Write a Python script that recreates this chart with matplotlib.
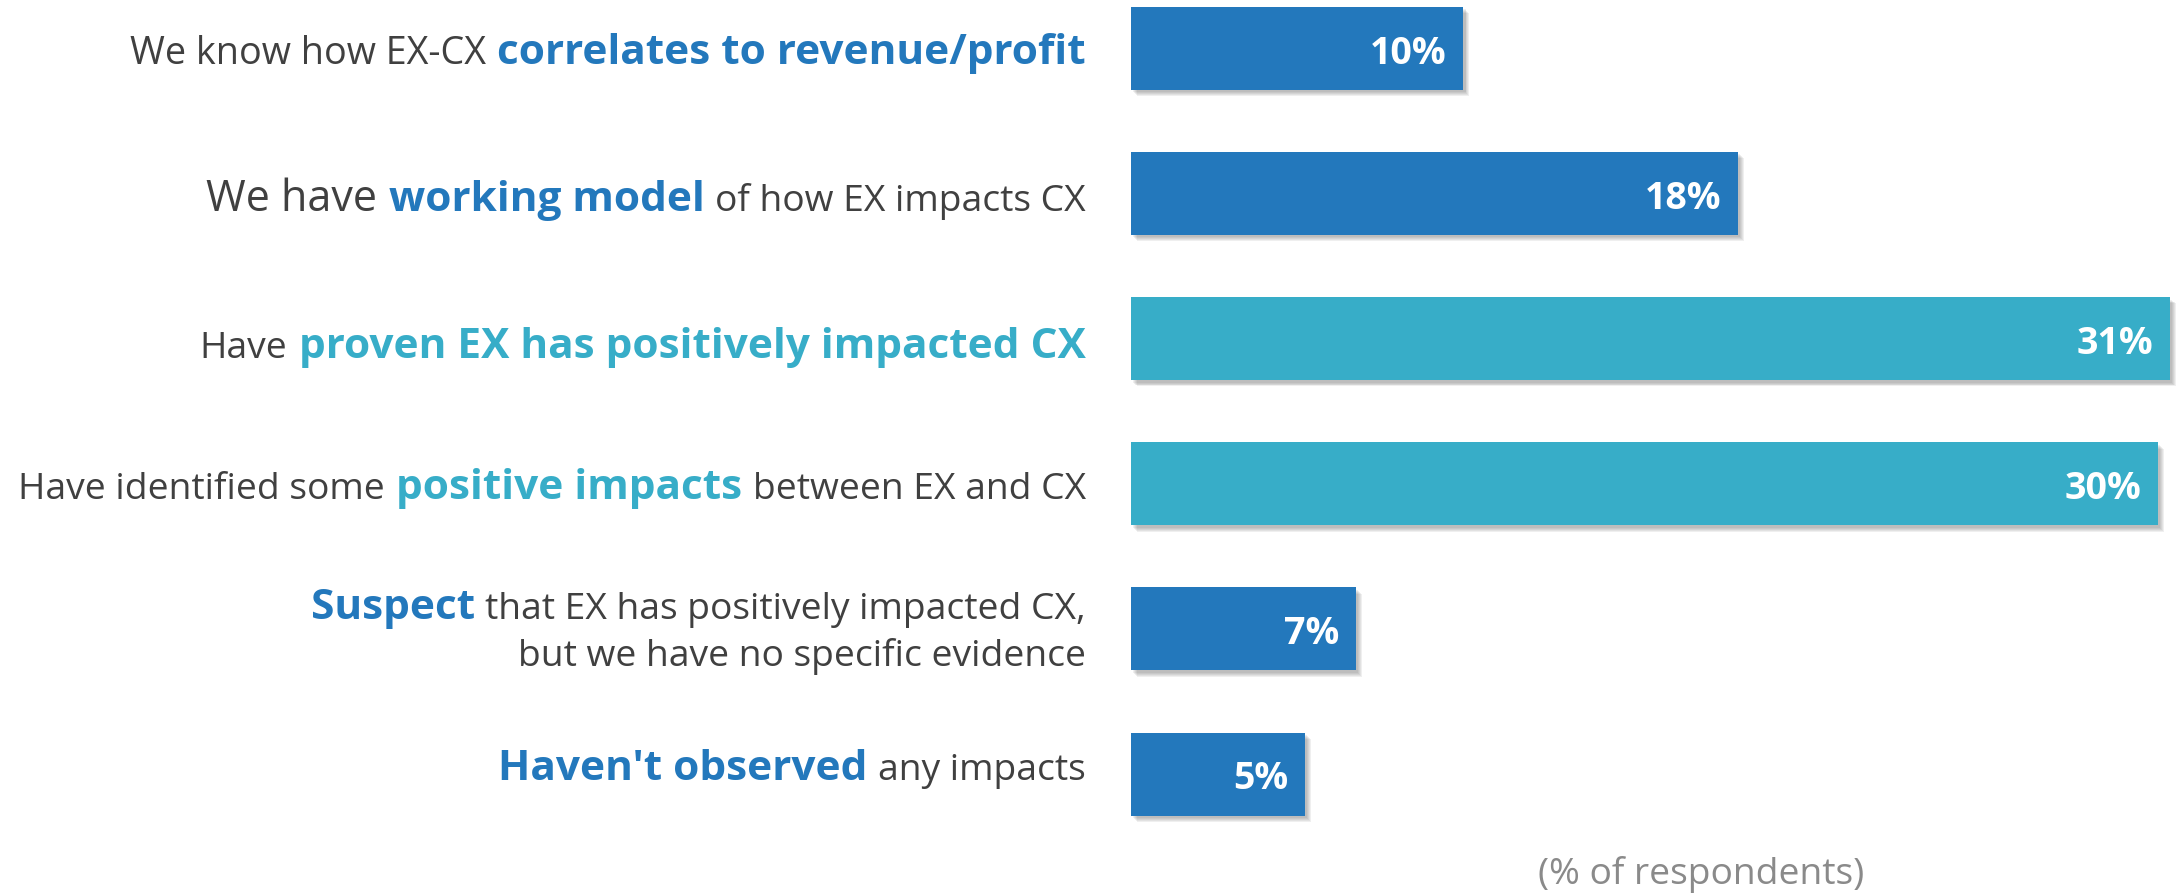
import matplotlib
matplotlib.use("Agg")
import matplotlib.pyplot as plt
import matplotlib.patheffects as pe

# ---------------- data ----------------
# bar lengths (the printed labels are rounded)
values = [9.83, 17.96, 30.75, 30.39, 6.66, 5.15]
value_labels = ["10%", "18%", "31%", "30%", "7%", "5%"]
groups = ["blue", "blue", "teal", "teal", "blue", "blue"]
# each row: list of lines, each line: list of (text, kind)
row_labels = [
    [[("We know how EX-CX", "reg_l"), ("correlates to revenue/profit", "bold")]],
    [[("We have", "big"), ("working model", "bold"), ("of how EX impacts CX", "reg")]],
    [[("Have", "reg"), ("proven EX has positively impacted CX", "bold")]],
    [[("Have identified some", "reg"), ("positive impacts", "bold"), ("between EX and CX", "reg")]],
    [[("Suspect", "bold"), ("that EX has positively impacted CX,", "reg")],
     [("but we have no specific evidence", "reg")]],
    [[("Haven't observed", "bold"), ("any impacts", "reg")]],
]
footnote = "(% of respondents)"

# ---------------- style ----------------
W, H, DPI = 2177, 896, 100
PALETTE = {"blue": "#2378BC", "teal": "#37ADC8"}
TEXT = "#404040"
FONT = "Open Sans"
SIZES = {"reg": 26.8, "reg_l": 27.2, "big": 31.0, "bold": 30.5}
PX_PER_UNIT = 33.79         # pixels per percentage point
ROW_PX = 145.1              # pixels between row centres
AX_LEFT_PX = 1131
FIRST_ROW_PX = 48.5
# baseline offsets (px, downward) for each line of each row
BASELINES = [[16], [17], [19], [15], [-10, 37], [6]]

fig = plt.figure(figsize=(W / DPI, H / DPI), dpi=DPI)
fig.patch.set_facecolor("white")
ax = fig.add_axes([AX_LEFT_PX / W, 0, (W - AX_LEFT_PX) / W, 1])
ax.set_xlim(0, (W - AX_LEFT_PX) / PX_PER_UNIT)
ax.set_ylim((H - FIRST_ROW_PX) / ROW_PX, -FIRST_ROW_PX / ROW_PX)
ax.axis("off")

ypos = list(range(len(values)))
colors = [PALETTE[g] for g in groups]
bars = ax.barh(ypos, values, height=83 / ROW_PX, color=colors, zorder=3)
shadow = [pe.SimplePatchShadow(offset=(o, -o), shadow_rgbFace="#555555", alpha=0.09)
          for o in (4.5, 3.8, 3.1, 2.4, 1.7)]
for b in bars:
    b.set_path_effects(shadow + [pe.Normal()])

# value labels
for y, v, lab in zip(ypos, values, value_labels):
    ax.text(v - 17 / PX_PER_UNIT, y + 15 / ROW_PX, lab, ha="right", va="baseline",
            color="white", fontsize=27, fontweight="bold", family=FONT, zorder=5)

# category labels, drawn right-to-left segment by segment
fig.canvas.draw()
renderer = fig.canvas.get_renderer()
inv = ax.transData.inverted()
space_em = 0.28
label_right_px = AX_LEFT_PX - 45
for y, lines, g, offs in zip(ypos, row_labels, groups, BASELINES):
    for line, off in zip(lines, offs):
        x_px = label_right_px
        for text, kind in reversed(line):
            size = SIZES[kind]
            weight = "bold" if kind == "bold" else "normal"
            color = PALETTE[g] if kind == "bold" else TEXT
            xd = inv.transform((x_px, 0))[0]
            t = ax.text(xd, y + off / ROW_PX, text, ha="right", va="baseline",
                        fontsize=size, fontweight=weight, color=color, family=FONT,
                        clip_on=False)
            bb = t.get_window_extent(renderer)
            x_px = bb.x0 - space_em * size * DPI / 72

fig.text(1538 / W, 1 - 884 / H, footnote, ha="left", va="baseline",
         fontsize=26.8, color="#8A8A8A", family=FONT)

fig.savefig("out.png", dpi=DPI, facecolor="white")
